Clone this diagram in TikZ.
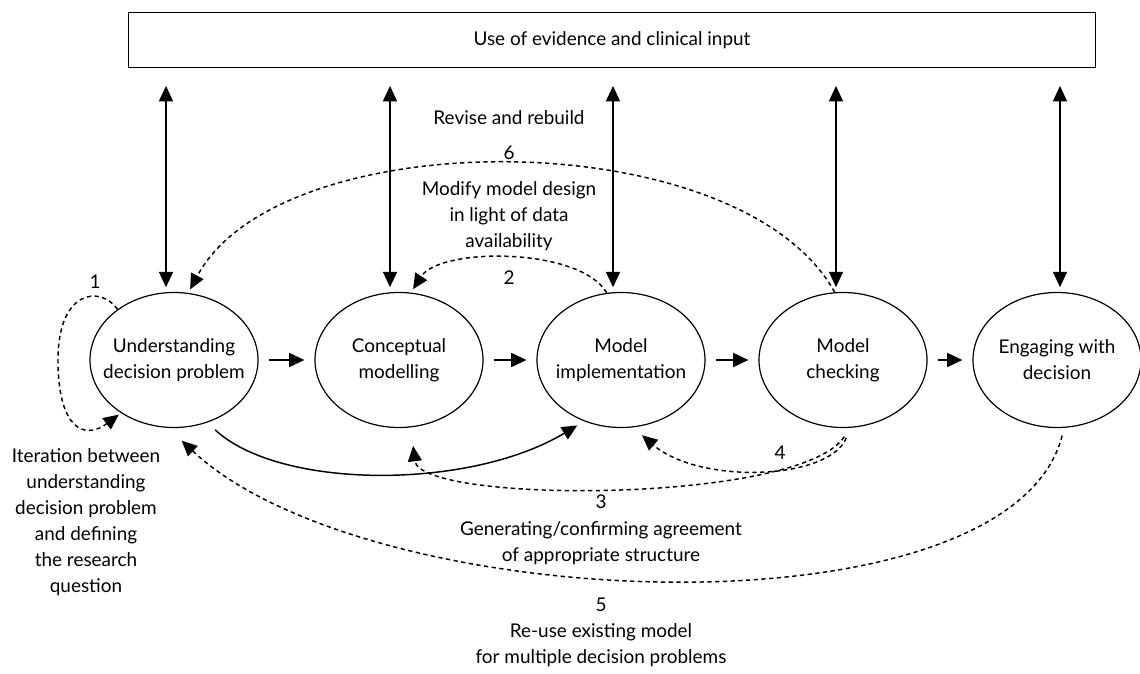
\documentclass[tikz,border=0pt]{standalone}
\usepackage{fontspec}
\setmainfont{Lato}
\usetikzlibrary{arrows.meta,shapes.geometric}
\begin{document}
\begin{tikzpicture}[x=0.75pt,y=-0.75pt,
  every node/.style={font=\fontsize{14.2}{19.5}\selectfont},
  stage/.style={draw, ellipse, line width=0.9pt, minimum width=126pt, minimum height=101.25pt, inner sep=0pt},
  txt/.style={align=center, inner sep=0pt},
  tip/.style={-{Triangle[length=11.5pt,width=10.5pt]}},
  dbl/.style={{Triangle[length=11.5pt,width=10.5pt]}-{Triangle[length=11.5pt,width=10.5pt]}, line width=1.1pt},
  flow/.style={tip, line width=1.5pt},
  dsh/.style={tip, line width=1.1pt, dash pattern=on 3.2pt off 2.6pt},
  solidc/.style={tip, line width=1.1pt}
  ]
\useasboundingbox (0,0) rectangle (1140,674);

% top box
\node[draw, line width=0.9pt, minimum width=725pt, minimum height=41pt, inner sep=0pt] (box) at (612,40) {Use of evidence and clinical input};

% stages
\node[stage, label={[txt]center:Understanding\\decision problem}] (u) at (174,360) {};
\node[stage, label={[txt]center:Conceptual\\modelling}] (c) at (399,360) {};
\node[stage, label={[txt]center:Model\\implementation}] (m) at (621,360) {};
\node[stage, label={[txt]center:Model\\checking}] (k) at (843,360) {};
\node[stage, label={[txt]center:Engaging with\\decision}] (e) at (1057,360) {};

% vertical double arrows
\foreach \n/\x in {u/166,c/390,m/613,k/836,e/1060}{
  \coordinate (a\n) at (\x,0);
  \draw[dbl, shorten <=13.5pt, shorten >=3.5pt] (box.south -| a\n) -- (\n.north -| a\n);
}

% main flow
\draw[flow, shorten <=7.5pt, shorten >=7.5pt] (u) -- (c);
\draw[flow, shorten <=7.5pt, shorten >=7.5pt] (c) -- (m);
\draw[flow, shorten <=7.5pt, shorten >=7.5pt] (m) -- (k);
\draw[flow, shorten <=7.5pt, shorten >=7.5pt] (k) -- (e);

% loop 1
\draw[dsh, shorten >=2pt] (u.138) .. controls (100,285) and (58,290) .. (58,360)
   .. controls (58,430) and (85,440) .. (u.-135);
\node[txt] (l1) at (95,282) {1};

% 2
\draw[dsh, shorten >=3pt] (m.102) .. controls (580,247) and (440,247) .. (c.80);
\node[txt] (l2) at (509,278) {2};

% 6
\draw[dsh, shorten >=3pt] (k.97) .. controls (740,121) and (280,121) .. (u.78);
\node[txt] (l6) at (509,153) {6};
\node[txt] (rev) at (509,118) {Revise and rebuild};
\node[txt] (mod) at (509,216) {Modify model design\\in light of data\\availability};

% solid curve
\draw[solidc, shorten <=8pt, shorten >=6pt] (u.-62) .. controls (280,490) and (470,490) .. (m.-121);

% 3
\draw[dsh, shorten <=8pt, shorten >=14pt] (k.-84) .. controls (800,504) and (420,504) .. (c.-80);
\node[txt] (l3) at (601,502) {3};
\node[txt] (gen) at (601,543) {Generating/confirming agreement\\of appropriate structure};

% 4
\draw[dsh, shorten <=8pt, shorten >=9pt] (k.-84) .. controls (830,480) and (700,485) .. (m.-80);
\node[txt] (l4) at (780,453) {4};

% 5
\draw[dsh, shorten <=6pt, shorten >=14pt] (e.-84) .. controls (1010,640) and (370,617) .. (u.-95);
\node[txt] (l5) at (601,605) {5};
\node[txt] (reuse) at (601,645) {Re-use existing model\\for multiple decision problems};

% iteration text
\node[txt] (iter) at (86,522) {Iteration between\\understanding\\decision problem\\and defining\\the research\\question};
\end{tikzpicture}
\end{document}
